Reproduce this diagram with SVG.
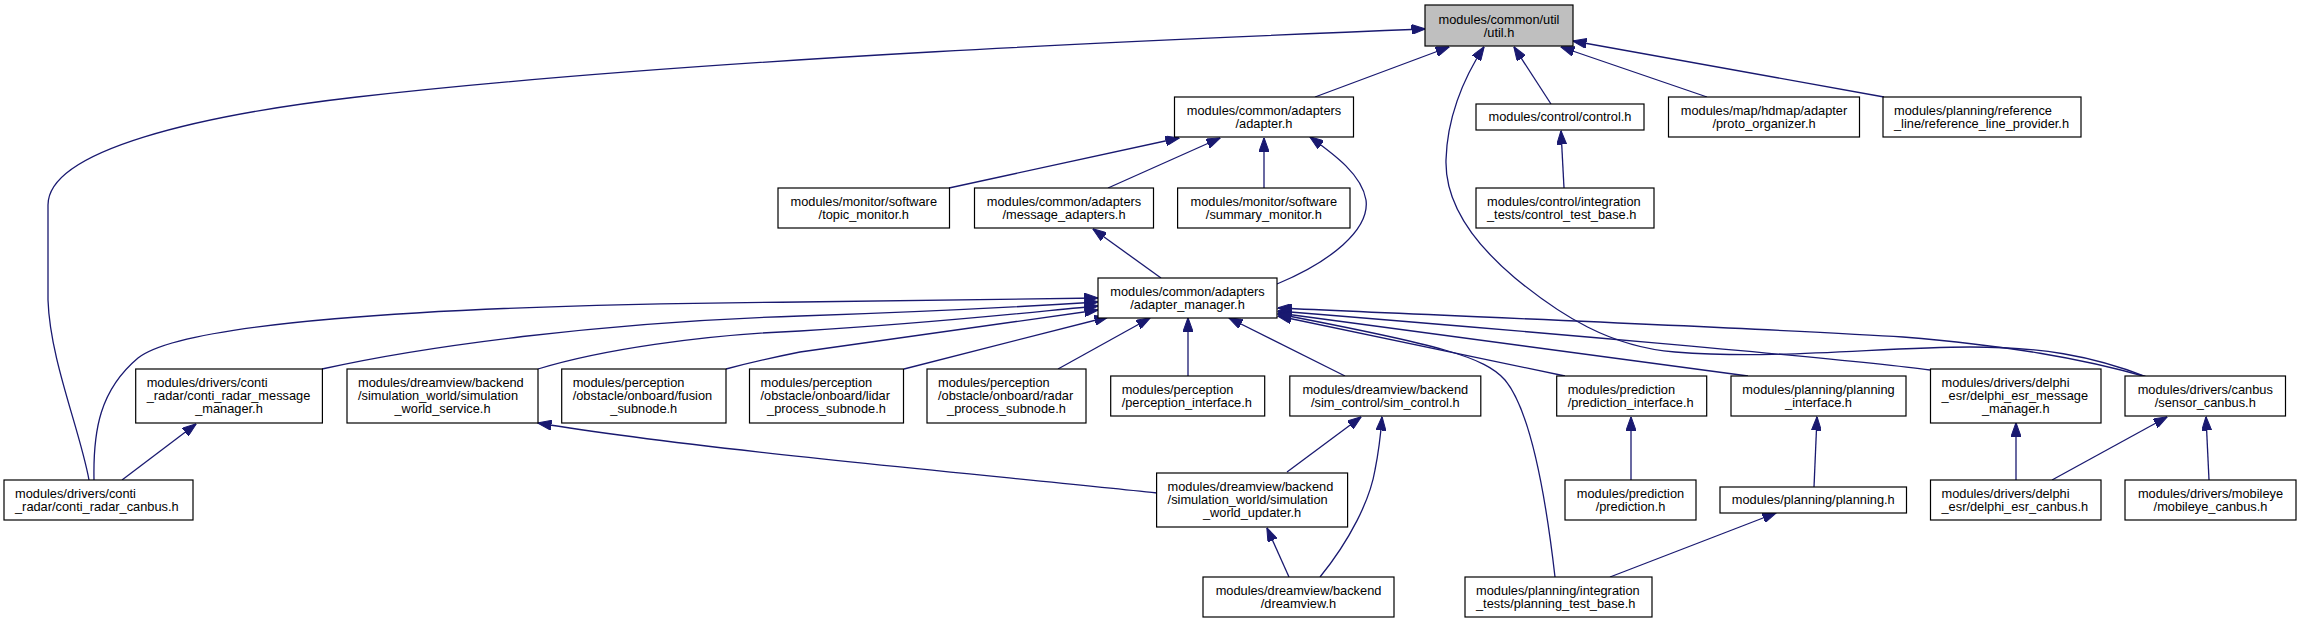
<svg xmlns="http://www.w3.org/2000/svg" width="2301" height="624" viewBox="0 0 2301 624">
<style>
.bg{fill:#ffffff}
.box{fill:#ffffff;stroke:#000000;stroke-width:1.2}
.root{fill:#bfbfbf;stroke:#000000;stroke-width:1.2}
.e{fill:none;stroke:#191970;stroke-width:1.3;marker-end:url(#arr)}
text{font-family:"Liberation Sans",Arial,Helvetica,sans-serif;font-size:12.8px;fill:#000000}
.c{text-anchor:middle}
</style>
<defs>
<marker id="arr" viewBox="0 0 14 10" refX="13.5" refY="5" markerWidth="14" markerHeight="10" markerUnits="userSpaceOnUse" orient="auto">
<path d="M0,0 L14,5 L0,10 Z" fill="#191970" stroke="#191970" stroke-width="1"/>
</marker>
</defs>
<rect class="bg" x="0" y="0" width="2301" height="624"/>
<g id="connectors">
<path class="e" d="M1315,97 L1449,47"/>
<path class="e" d="M1551,104 L1514,47"/>
<path class="e" d="M1707,97 L1561,47"/>
<path class="e" d="M1884,97 L1573,41"/>
<path class="e" d="M89,480 C80,430 50,360 48,300 L48,205 C48,150 200,115 357,97 C700,58 1200,38 1425,29"/>
<path class="e" d="M2147,377 C2090,355 2040,347 1970,347 C1880,347 1780,360 1675,352 C1610,347 1560,315 1515,278 C1470,240 1445,200 1446,160 C1447,120 1462,80 1484,47"/>
<path class="e" d="M949,188 L1179,138"/>
<path class="e" d="M1108,188 L1220,138"/>
<path class="e" d="M1264,188 L1264,138"/>
<path class="e" d="M1277,284 C1330,262 1370,230 1366,200 C1362,175 1335,155 1310,137"/>
<path class="e" d="M1161,278 L1093,229"/>
<path class="e" d="M1564,188 L1561,131"/>
<path class="e" d="M94,480 C93,430 100,390 138,358 C180,325 400,305 800,302 L1098,298"/>
<path class="e" d="M322,369 C420,347 600,322 800,316 C950,311 1050,305 1098,302"/>
<path class="e" d="M538,369 C600,350 700,335 800,331 C950,322 1050,310 1098,306"/>
<path class="e" d="M726,369 C760,360 780,356 800,352 C950,330 1050,316 1098,310"/>
<path class="e" d="M904,369 L1108,317"/>
<path class="e" d="M1058,369 L1150,318"/>
<path class="e" d="M1188,376 L1188,318"/>
<path class="e" d="M1345,376 L1229,318"/>
<path class="e" d="M1565,376 L1278,316"/>
<path class="e" d="M1748,376 L1278,313"/>
<path class="e" d="M1930,370 C1850,359 1500,329 1278,311"/>
<path class="e" d="M2147,377 C2080,358 2010,346 1903,337 C1800,330 1500,318 1278,308"/>
<path class="e" d="M1555,577 C1545,490 1530,410 1505,380 C1485,357 1440,345 1278,314"/>
<path class="e" d="M122,480 L196,424"/>
<path class="e" d="M1157,493 C1000,476 700,450 538,423"/>
<path class="e" d="M1287,472 L1361,417"/>
<path class="e" d="M1320,577 C1350,540 1370,500 1375,470 C1380,445 1381,430 1382,417"/>
<path class="e" d="M1289,577 L1267,528"/>
<path class="e" d="M1631,480 L1631,417"/>
<path class="e" d="M1814,487 L1817,417"/>
<path class="e" d="M1610,577 L1776,513"/>
<path class="e" d="M2016,480 L2016,423"/>
<path class="e" d="M2052,480 L2167,417"/>
<path class="e" d="M2209,480 L2206,417"/>
</g>
<g id="n_util"><rect class="root" x="1425" y="5" width="148" height="41"/><text class="c" x="1499" y="23.6">modules/common/util</text><text class="c" x="1499" y="36.9">/util.h</text></g>
<g id="n_adapter"><rect class="box" x="1174.5" y="97" width="179" height="40"/><text class="c" x="1264" y="114.5">modules/common/adapters</text><text class="c" x="1264" y="127.8">/adapter.h</text></g>
<g id="n_control"><rect class="box" x="1476" y="104" width="168" height="26"/><text class="c" x="1560" y="121.3">modules/control/control.h</text></g>
<g id="n_proto"><rect class="box" x="1668.5" y="97" width="191" height="40"/><text class="c" x="1764" y="114.5">modules/map/hdmap/adapter</text><text class="c" x="1764" y="127.8">/proto_organizer.h</text></g>
<g id="n_refline"><rect class="box" x="1883" y="97" width="198" height="40"/><text x="1894" y="114.5">modules/planning/reference</text><text x="1894" y="127.8">_line/reference_line_provider.h</text></g>
<g id="n_topic"><rect class="box" x="778" y="188" width="171.5" height="40"/><text class="c" x="863.75" y="205.5">modules/monitor/software</text><text class="c" x="863.75" y="218.8">/topic_monitor.h</text></g>
<g id="n_msgadapt"><rect class="box" x="974.5" y="188" width="179" height="40"/><text class="c" x="1064" y="205.5">modules/common/adapters</text><text class="c" x="1064" y="218.8">/message_adapters.h</text></g>
<g id="n_summary"><rect class="box" x="1177.6" y="188" width="172.4" height="40"/><text class="c" x="1263.8" y="205.5">modules/monitor/software</text><text class="c" x="1263.8" y="218.8">/summary_monitor.h</text></g>
<g id="n_ctltest"><rect class="box" x="1476" y="188" width="178" height="40"/><text x="1487" y="205.5">modules/control/integration</text><text x="1487" y="218.8">_tests/control_test_base.h</text></g>
<g id="n_adaptmgr"><rect class="box" x="1098" y="278" width="179" height="40"/><text class="c" x="1187.5" y="295.5">modules/common/adapters</text><text class="c" x="1187.5" y="308.8">/adapter_manager.h</text></g>
<g id="n_contimsg"><rect class="box" x="135.7" y="369" width="186.7" height="54"/><text x="146.7" y="386.5">modules/drivers/conti</text><text x="146.7" y="399.8">_radar/conti_radar_message</text><text class="c" x="229" y="413.1">_manager.h</text></g>
<g id="n_simsvc"><rect class="box" x="347" y="369" width="191" height="54"/><text x="358" y="386.5">modules/dreamview/backend</text><text x="358" y="399.8">/simulation_world/simulation</text><text class="c" x="442.5" y="413.1">_world_service.h</text></g>
<g id="n_fusion"><rect class="box" x="561.7" y="369" width="164.3" height="54"/><text x="572.7" y="386.5">modules/perception</text><text x="572.7" y="399.8">/obstacle/onboard/fusion</text><text class="c" x="643.8" y="413.1">_subnode.h</text></g>
<g id="n_lidar"><rect class="box" x="749.5" y="369" width="154" height="54"/><text x="760.5" y="386.5">modules/perception</text><text x="760.5" y="399.8">/obstacle/onboard/lidar</text><text class="c" x="826.5" y="413.1">_process_subnode.h</text></g>
<g id="n_radar"><rect class="box" x="927" y="369" width="159" height="54"/><text x="938" y="386.5">modules/perception</text><text x="938" y="399.8">/obstacle/onboard/radar</text><text class="c" x="1006.5" y="413.1">_process_subnode.h</text></g>
<g id="n_percif"><rect class="box" x="1110.7" y="376" width="154" height="40"/><text x="1121.7" y="393.5">modules/perception</text><text x="1121.7" y="406.8">/perception_interface.h</text></g>
<g id="n_simctl"><rect class="box" x="1289.8" y="376" width="191" height="40"/><text class="c" x="1385.3" y="393.5">modules/dreamview/backend</text><text class="c" x="1385.3" y="406.8">/sim_control/sim_control.h</text></g>
<g id="n_predif"><rect class="box" x="1556.7" y="376" width="150" height="40"/><text x="1567.7" y="393.5">modules/prediction</text><text x="1567.7" y="406.8">/prediction_interface.h</text></g>
<g id="n_planif"><rect class="box" x="1731" y="376" width="175" height="40"/><text class="c" x="1818.5" y="393.5">modules/planning/planning</text><text class="c" x="1818.5" y="406.8">_interface.h</text></g>
<g id="n_delphimsg"><rect class="box" x="1930.5" y="369" width="170.5" height="54"/><text x="1941.5" y="386.5">modules/drivers/delphi</text><text x="1941.5" y="399.8">_esr/delphi_esr_message</text><text class="c" x="2015.75" y="413.1">_manager.h</text></g>
<g id="n_sensor"><rect class="box" x="2125" y="376" width="160.5" height="40"/><text class="c" x="2205.25" y="393.5">modules/drivers/canbus</text><text class="c" x="2205.25" y="406.8">/sensor_canbus.h</text></g>
<g id="n_contican"><rect class="box" x="4" y="480" width="189" height="40"/><text x="15" y="497.5">modules/drivers/conti</text><text x="15" y="510.8">_radar/conti_radar_canbus.h</text></g>
<g id="n_simupd"><rect class="box" x="1156.6" y="473" width="191" height="54"/><text x="1167.6" y="490.5">modules/dreamview/backend</text><text x="1167.6" y="503.8">/simulation_world/simulation</text><text class="c" x="1252.1" y="517.1">_world_updater.h</text></g>
<g id="n_pred"><rect class="box" x="1565" y="480" width="131" height="40"/><text class="c" x="1630.5" y="497.5">modules/prediction</text><text class="c" x="1630.5" y="510.8">/prediction.h</text></g>
<g id="n_planning"><rect class="box" x="1720" y="487" width="186.5" height="26"/><text class="c" x="1813.25" y="504.3">modules/planning/planning.h</text></g>
<g id="n_delphican"><rect class="box" x="1930.5" y="480" width="170.5" height="40"/><text x="1941.5" y="497.5">modules/drivers/delphi</text><text x="1941.5" y="510.8">_esr/delphi_esr_canbus.h</text></g>
<g id="n_mobileye"><rect class="box" x="2125" y="480" width="171" height="40"/><text class="c" x="2210.5" y="497.5">modules/drivers/mobileye</text><text class="c" x="2210.5" y="510.8">/mobileye_canbus.h</text></g>
<g id="n_dreamview"><rect class="box" x="1203" y="577" width="191" height="40"/><text class="c" x="1298.5" y="594.5">modules/dreamview/backend</text><text class="c" x="1298.5" y="607.8">/dreamview.h</text></g>
<g id="n_plantest"><rect class="box" x="1465" y="577" width="187" height="40"/><text x="1476" y="594.5">modules/planning/integration</text><text x="1476" y="607.8">_tests/planning_test_base.h</text></g>
</svg>
